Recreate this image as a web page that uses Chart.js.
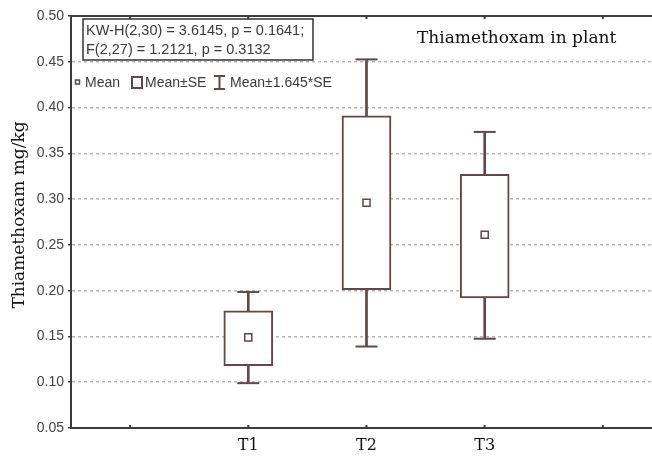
<!DOCTYPE html>
<html>
<head>
<meta charset="utf-8">
<script src="https://cdn.jsdelivr.net/npm/chart.js@4"></script>
<style>
  html, body { margin: 0; padding: 0; background: #fff; overflow: hidden; }
  #wrap { width: 652px; height: 456px; position: relative; overflow: hidden; }
  #c { position: absolute; left: 0; top: 0; }
</style>
</head>
<body>
<div id="wrap"><canvas id="c" width="662" height="456"></canvas></div>
<script>
// ---- data ----
const categories = ['', 'T1', 'T2', 'T3', ''];
const meanValues = [null, 0.149, 0.296, 0.261, null];
const seLow      = [null, 0.118, 0.201, 0.192, null];
const seHigh     = [null, 0.178, 0.391, 0.327, null];
const ciLow      = [null, 0.099, 0.139, 0.1475, null];
const ciHigh     = [null, 0.1986, 0.4526, 0.3734, null];
const yMin = 0.05, yMax = 0.50, yStep = 0.05;

const statsLine1 = 'KW-H(2,30) = 3.6145, p = 0.1641;';
const statsLine2 = 'F(2,27) = 1.2121, p = 0.3132';
const plotTitle = 'Thiamethoxam in plant';
const yTitle = 'Thiamethoxam mg/kg';
const legendMean = 'Mean';
const legendSE = 'Mean±SE';
const legendCI = 'Mean±1.645*SE';

const STROKE = '#654545';
const AXIS = '#3c3c3c';
const SERIF = '"DejaVu Serif", "Liberation Serif", serif';
const SANS = '"Liberation Sans", Arial, sans-serif';

const boxData = seLow.map((l, i) => l == null ? null : [l, seHigh[i]]);
const stemData = ciLow.map((l, i) => l == null ? null : [l, ciHigh[i]]);

const decor = {
  id: 'decor',
  afterDraw(chart) {
    const ctx = chart.ctx;
    const a = chart.chartArea;
    const xs = chart.scales.x;
    ctx.save();
    // top frame line and small ticks (top and bottom)
    ctx.strokeStyle = AXIS;
    ctx.lineWidth = 2;
    ctx.beginPath();
    ctx.moveTo(a.left - 1, a.top);
    ctx.lineTo(a.right, a.top);
    ctx.stroke();
    for (let i = 0; i < categories.length; i++) {
      const x = xs.getPixelForValue(i);
      ctx.beginPath();
      ctx.moveTo(x, a.top);
      ctx.lineTo(x, a.top + 3);
      ctx.moveTo(x, a.bottom);
      ctx.lineTo(x, a.bottom - 3);
      ctx.stroke();
    }
    // stats box
    ctx.fillStyle = '#fff';
    ctx.fillRect(83, 19, 230, 41);
    ctx.strokeStyle = '#333';
    ctx.lineWidth = 1.5;
    ctx.strokeRect(83, 19, 230, 41);
    ctx.fillStyle = '#3a3a3a';
    ctx.font = '14.5px ' + SANS;
    ctx.textBaseline = 'alphabetic';
    ctx.textAlign = 'left';
    ctx.fillText(statsLine1, 86, 35);
    ctx.fillText(statsLine2, 86, 54);
    // title
    ctx.fillStyle = '#111';
    ctx.font = '17px ' + SERIF;
    ctx.fillText(plotTitle, 417, 43);
    // legend
    ctx.strokeStyle = STROKE;
    ctx.lineWidth = 1.5;
    ctx.strokeRect(75.5, 80, 4, 4);
    ctx.fillStyle = '#3a3a3a';
    ctx.font = '14px ' + SANS;
    ctx.fillText(legendMean, 85, 87);
    ctx.lineWidth = 2;
    ctx.strokeRect(132, 77, 10, 11);
    ctx.fillText(legendSE, 145, 87);
    ctx.beginPath();
    ctx.moveTo(214, 76); ctx.lineTo(225, 76);
    ctx.moveTo(219.5, 76); ctx.lineTo(219.5, 89);
    ctx.moveTo(214, 89); ctx.lineTo(225, 89);
    ctx.stroke();
    ctx.fillText(legendCI, 230, 87);
    // y title
    ctx.translate(20, 215);
    ctx.rotate(-Math.PI / 2);
    ctx.textAlign = 'center';
    ctx.textBaseline = 'middle';
    ctx.fillStyle = '#111';
    ctx.font = '17px ' + SERIF;
    ctx.fillText(yTitle, 0, 0);
    ctx.restore();
  }
};

new Chart(document.getElementById('c'), {
  type: 'bar',
  data: {
    labels: categories,
    datasets: [
      {
        type: 'line', label: 'mean', data: meanValues, showLine: false,
        pointStyle: 'rect', pointRadius: 5, pointBorderWidth: 1.5,
        pointBackgroundColor: '#fff', pointBorderColor: STROKE, order: 0
      },
      {
        type: 'bar', label: 'se', data: boxData, grouped: false,
        backgroundColor: '#fff', borderColor: STROKE, borderWidth: 2,
        borderSkipped: false, barThickness: 49, order: 1
      },
      {
        type: 'line', label: 'capHigh', data: ciHigh, showLine: false,
        pointStyle: 'line', pointRadius: 11, pointBorderWidth: 2,
        pointBorderColor: STROKE, borderColor: STROKE, order: 2
      },
      {
        type: 'line', label: 'capLow', data: ciLow, showLine: false,
        pointStyle: 'line', pointRadius: 11, pointBorderWidth: 2,
        pointBorderColor: STROKE, borderColor: STROKE, order: 2
      },
      {
        type: 'bar', label: 'stem', data: stemData, grouped: false,
        backgroundColor: STROKE, borderWidth: 0, barThickness: 2, order: 3
      }
    ]
  },
  options: {
    responsive: false,
    animation: false,
    events: [],
    layout: { autoPadding: false, padding: { top: 16, left: 0, right: 0, bottom: 0 } },
    plugins: { legend: { display: false }, tooltip: { enabled: false } },
    scales: {
      x: {
        offset: true,
        grid: { display: true, drawOnChartArea: false, drawTicks: false, offset: false },
        border: { display: true, color: AXIS, width: 2 },
        ticks: { color: '#111', font: { family: SERIF, size: 16 }, padding: 8, autoSkip: false, maxRotation: 0 },
        afterFit(s) { s.height = 28; s.paddingLeft = 0; s.paddingRight = 0; }
      },
      y: {
        min: yMin, max: yMax,
        grid: {
          color: (c) => (c.tick && (Math.abs(c.tick.value - yMin) < 1e-6 || Math.abs(c.tick.value - yMax) < 1e-6)) ? 'rgba(0,0,0,0)' : '#b8b8b8',
          lineWidth: 1.5, tickLength: 3, tickColor: AXIS, drawTicks: true
        },
        border: { display: true, color: AXIS, width: 2, dash: [3, 3] },
        ticks: { stepSize: yStep, color: '#444', font: { family: SANS, size: 14 }, padding: 4,
                 callback: (v) => v.toFixed(2) },
        afterFit(s) { s.width = 71; }
      }
    }
  },
  plugins: [decor]
});
</script>
</body>
</html>
